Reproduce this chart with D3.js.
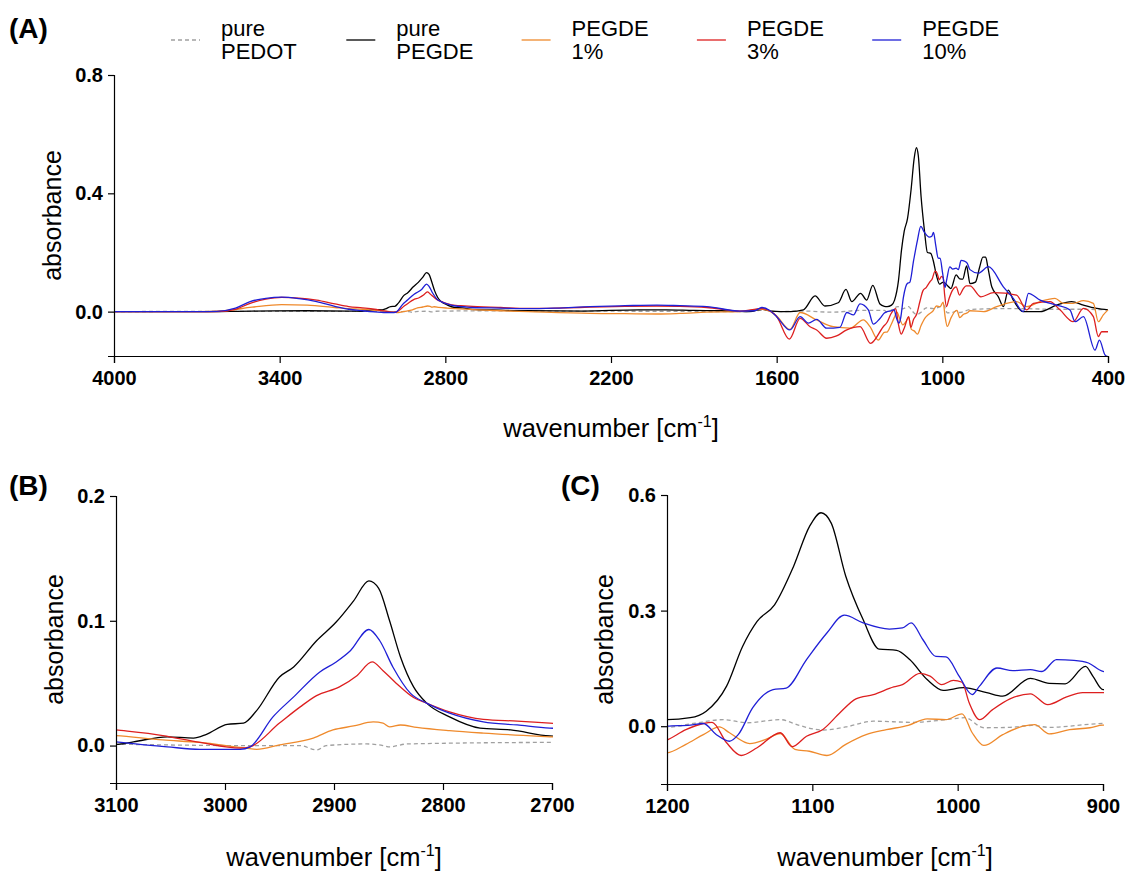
<!DOCTYPE html>
<html><head><meta charset="utf-8">
<script src="https://cdn.jsdelivr.net/npm/d3@7"></script>
<style>
html,body{margin:0;padding:0;background:#fff;}
svg text{font-family:"Liberation Sans",Arial,sans-serif;}
</style></head>
<body><svg id="c" width="1130" height="872"></svg>
<script>
// ---- Data: [wavenumber cm-1, absorbance] ----
const pedot = [[4000,0],[3600,0.001],[3300,0.001],[3100,0.001],[3053,0.0005],[2992,0],[2931,0],[2916,-0.0035],[2907,0],[2870,0.0013],[2855,0],[2849,-0.001],[2833,0.0013],[2702,0.0025],[2400,0.002],[2000,0.001],[1700,0],[1650,0.005],[1600,0],[1500,0.002],[1400,-0.002],[1300,0.004],[1210,0.004],[1200,-0.003],[1182,0.007],[1161,0.017],[1145,0.009],[1122,0.017],[1109,0.002],[1093,-0.010],[1077,-0.002],[1058,0.013],[1031,0.010],[1008,0.017],[995,0.022],[982,-0.004],[964,-0.003],[949,0.002],[937,-0.003],[900,0.007],[800,0.01],[700,0.01],[600,0.008],[500,0.008],[400,0.006]];

const pegde = [[4000,0],[3700,0],[3500,0.002],[3300,0.003],[3150,0.002],[3100,0.001],[3084,0.003],[3053,0.007],[3029,0.006],[3017,0.009],[2998,0.017],[2983,0.018],[2971,0.028],[2950,0.055],[2937,0.063],[2916,0.084],[2898,0.099],[2882,0.116],[2868,0.132],[2859,0.126],[2849,0.100],[2839,0.071],[2827,0.047],[2815,0.034],[2794,0.023],[2766,0.014],[2738,0.0125],[2702,0.0077],[2600,0.005],[2500,0.003],[2300,0.002],[2100,0.006],[2000,0.006],[1900,0.004],[1800,0.003],[1700,0],[1650,0.008],[1620,0.002],[1550,0],[1503,0.006],[1461,0.053],[1425,0.019],[1377,0.03],[1349,0.075],[1328,0.034],[1296,0.062],[1274,0.039],[1252,0.089],[1226,0.026],[1210,0.018],[1200,0.017],[1184,0.022],[1173,0.039],[1159,0.104],[1148,0.207],[1138,0.272],[1126,0.315],[1113,0.414],[1102,0.518],[1094,0.554],[1087,0.527],[1077,0.389],[1065,0.276],[1054,0.200],[1042,0.197],[1033,0.173],[1021,0.121],[1010,0.093],[996,0.100],[980,0.087],[969,0.078],[950,0.124],[937,0.111],[926,0.110],[912,0.155],[907,0.130],[900,0.095],[880,0.10],[865,0.15],[853,0.184],[843,0.184],[835,0.15],[821,0.084],[797,0.05],[779,0.017],[761,0.073],[743,0.039],[707,0],[646,0],[586,0.022],[532,0.034],[489,0.022],[441,0.011],[400,0.006]];

const pegde1 = [[4000,0],[3700,0],[3600,0.003],[3500,0.015],[3393,0.024],[3300,0.022],[3200,0.014],[3150,0.01],[3100,0.008],[3057,0.0045],[3023,0.0025],[2986,-0.0015],[2971,-0.003],[2950,0.0005],[2919,0.006],[2901,0.0125],[2882,0.0157],[2864,0.019],[2855,0.018],[2849,0.015],[2839,0.0165],[2824,0.0146],[2794,0.012],[2763,0.010],[2702,0.007],[2600,0.003],[2500,0],[2276,-0.006],[2150,-0.007],[2034,-0.008],[1950,-0.006],[1853,-0.002],[1733,0],[1654,0.008],[1625,0.002],[1600,-0.015],[1552,-0.06],[1515,-0.003],[1455,-0.028],[1395,-0.051],[1334,-0.056],[1286,-0.028],[1262,-0.051],[1232,-0.096],[1210,-0.07],[1200,-0.069],[1187,-0.047],[1175,-0.022],[1164,-0.002],[1157,-0.017],[1143,-0.045],[1132,-0.034],[1122,-0.019],[1112,-0.060],[1102,-0.065],[1090,-0.076],[1077,-0.047],[1063,-0.022],[1049,-0.009],[1034,0.002],[1021,0.019],[1008,0.017],[997,0.032],[990,-0.017],[982,-0.050],[969,-0.022],[955,0],[947,0.004],[937,-0.020],[923,-0.009],[909,-0.004],[900,0.003],[851,0],[803,0.017],[731,0.034],[695,0.017],[646,0.034],[592,0.045],[562,0.028],[526,0.028],[489,0.037],[453,0.028],[435,-0.034],[417,-0.011],[400,0.006]];

const pegde3 = [[4000,0],[3700,0],[3628,0],[3560,0.008],[3507,0.028],[3450,0.042],[3393,0.048],[3330,0.046],[3266,0.039],[3200,0.026],[3150,0.017],[3100,0.0125],[3057,0.008],[3023,0.0025],[2986,-0.002],[2977,-0.001],[2950,0.018],[2931,0.031],[2916,0.040],[2895,0.047],[2879,0.056],[2865,0.067],[2855,0.060],[2843,0.050],[2827,0.0385],[2815,0.034],[2794,0.027],[2763,0.021],[2732,0.0196],[2702,0.018],[2600,0.014],[2500,0.011],[2400,0.012],[2276,0.015],[2150,0.018],[2034,0.019],[1950,0.018],[1853,0.014],[1733,0.002],[1654,0.01],[1625,0.003],[1600,-0.017],[1554,-0.093],[1515,-0.023],[1479,-0.051],[1455,-0.062],[1419,-0.09],[1383,-0.082],[1346,-0.062],[1298,-0.051],[1260,-0.107],[1214,-0.051],[1200,-0.036],[1187,-0.009],[1175,0.007],[1169,0.010],[1159,-0.043],[1149,-0.076],[1138,-0.056],[1122,-0.017],[1114,-0.053],[1104,-0.026],[1093,-0.009],[1081,0.035],[1070,0.071],[1058,0.082],[1044,0.102],[1038,0.108],[1026,0.137],[1019,0.130],[1011,0.108],[1003,0.119],[997,0.114],[992,0.060],[985,0.017],[976,0.043],[964,0.071],[950,0.084],[938,0.056],[925,0.076],[914,0.087],[900,0.087],[860,0.05],[815,0.064],[731,0.056],[695,0.006],[670,0.028],[610,0.034],[574,0.006],[526,-0.034],[489,0.011],[453,-0.017],[435,-0.084],[423,-0.068],[400,-0.068]];

const pegde10 = [[4000,0],[3700,0],[3628,0.001],[3560,0.012],[3507,0.034],[3450,0.045],[3393,0.049],[3330,0.044],[3266,0.034],[3200,0.018],[3150,0.008],[3100,0.003],[3053,-0.001],[3023,-0.003],[2986,-0.003],[2977,-0.001],[2956,0.023],[2937,0.039],[2913,0.059],[2898,0.067],[2885,0.076],[2868,0.093],[2858,0.084],[2846,0.063],[2830,0.042],[2815,0.034],[2794,0.026],[2763,0.019],[2732,0.0165],[2702,0.014],[2600,0.012],[2500,0.01],[2400,0.012],[2276,0.017],[2150,0.02],[2034,0.022],[1950,0.02],[1853,0.017],[1733,0.002],[1680,0.003],[1654,0.014],[1625,0.004],[1600,-0.017],[1552,-0.062],[1515,-0.017],[1485,-0.039],[1455,-0.026],[1419,-0.056],[1371,-0.053],[1346,-0.003],[1322,-0.011],[1298,0.026],[1268,0.006],[1250,-0.042],[1226,-0.023],[1210,-0.005],[1200,0],[1184,0.003],[1175,0.007],[1166,-0.022],[1157,-0.039],[1151,-0.022],[1141,0.048],[1127,0.095],[1118,0.099],[1104,0.173],[1090,0.242],[1078,0.288],[1065,0.268],[1047,0.252],[1038,0.255],[1032,0.268],[1024,0.225],[1015,0.181],[1008,0.180],[999,0.130],[990,0.082],[985,0.104],[973,0.151],[962,0.144],[950,0.147],[942,0.142],[932,0.173],[920,0.171],[910,0.164],[900,0.142],[870,0.13],[833,0.152],[779,0.084],[743,0.045],[707,0],[688,0.062],[646,0.039],[586,0.022],[538,0.006],[519,-0.034],[489,-0.017],[447,-0.13],[431,-0.096],[411,-0.146],[400,-0.152]];

const seriesNames = ["pure\nPEDOT","pure\nPEGDE","PEGDE\n1%","PEGDE\n3%","PEGDE\n10%"];
const seriesData = [pedot, pegde, pegde1, pegde3, pegde10];
const seriesColors = ["#a0a0a0","#000000","#ef8a2c","#dd1f1f","#1f1fd6"];
const seriesDash = ["4,3",null,null,null,null];

const ticksA_x = [4000,3400,2800,2200,1600,1000,400];
const ticksA_y = [0.0,0.4,0.8];
const ticksB_x = [3100,3000,2900,2800,2700];
const ticksB_y = [0.0,0.1,0.2];
const ticksC_x = [1200,1100,1000,900];
const ticksC_y = [0.0,0.3,0.6];

const svg = d3.select("#c");
const FONT = '"Liberation Sans",Arial,sans-serif';

function panel(cfg){
  const x = d3.scaleLinear().domain(cfg.xd).range([cfg.x0,cfg.x1]);
  const y = d3.scaleLinear().domain(cfg.yd).range([cfg.y1,cfg.y0]);
  const id = "clip"+cfg.name;
  svg.append("clipPath").attr("id",id).append("rect")
    .attr("x",cfg.x0).attr("y",cfg.y0-5).attr("width",cfg.x1-cfg.x0+1).attr("height",cfg.y1-cfg.y0+5);
  const g = svg.append("g").attr("clip-path",`url(#${id})`);
  const line = d3.line().x(d=>x(d[0])).y(d=>y(d[1])).curve(d3.curveMonotoneX);
  seriesData.forEach((s,i)=>{
    g.append("path").attr("d",line(s)).attr("fill","none")
      .attr("stroke",seriesColors[i]).attr("stroke-width",1.3)
      .attr("stroke-dasharray",seriesDash[i]);
  });
  const xa = svg.append("g").attr("transform",`translate(0,${cfg.y1})`)
    .call(d3.axisBottom(x).tickValues(cfg.xt).tickFormat(d3.format("d")).tickSizeOuter(0).tickSize(7).tickPadding(8));
  const ya = svg.append("g").attr("transform",`translate(${cfg.x0},0)`)
    .call(d3.axisLeft(y).tickValues(cfg.yt).tickFormat(d3.format(".1f")).tickSizeOuter(0).tickSize(6).tickPadding(5));
  [xa,ya].forEach(a=>{
    a.selectAll("path.domain").attr("stroke","#000").attr("stroke-width",1.2);
    a.selectAll(".tick line").attr("stroke","#000").attr("stroke-width",1.2);
    a.selectAll("text").attr("font-family",FONT).attr("font-weight","bold")
      .attr("font-size",20).attr("fill","#000");
  });
  // axis titles
  const xt = svg.append("text").attr("x",(cfg.x0+cfg.x1)/2).attr("y",cfg.y1+cfg.xtOff)
    .attr("text-anchor","middle").attr("font-size",25.5).attr("font-family",FONT);
  xt.append("tspan").text("wavenumber [cm");
  xt.append("tspan").attr("dy",-10).attr("font-size",16).text("-1");
  xt.append("tspan").attr("dy",10).text("]");
  svg.append("text").attr("transform",`translate(${cfg.ytX},${(cfg.y0+cfg.y1)/2}) rotate(-90)`)
    .attr("text-anchor","middle").attr("dominant-baseline","central")
    .attr("font-size",25).attr("font-family",FONT).text("absorbance");
  svg.append("text").attr("x",cfg.lx).attr("y",cfg.ly).attr("font-size",28)
    .attr("font-weight","bold").attr("font-family",FONT).text(cfg.label);
}

panel({name:"A",xd:[4000,400],yd:[-0.15,0.8],x0:114,x1:1108,y0:75,y1:356,xt:ticksA_x,yt:ticksA_y,xtOff:81,ytX:52,label:"(A)",lx:9,ly:38});
panel({name:"B",xd:[3100,2700],yd:[-0.03,0.2],x0:116,x1:552,y0:496,y1:783,xt:ticksB_x,yt:ticksB_y,xtOff:83,ytX:54,label:"(B)",lx:9,ly:495});
panel({name:"C",xd:[1200,900],yd:[-0.15,0.6],x0:667,x1:1103,y0:495,y1:784,xt:ticksC_x,yt:ticksC_y,xtOff:82,ytX:604,label:"(C)",lx:561,ly:495});

// legend
const leg = svg.append("g");
seriesNames.forEach((n,i)=>{
  const x0 = 171 + i*175.3;
  leg.append("line").attr("x1",x0).attr("x2",x0+29).attr("y1",40).attr("y2",40)
    .attr("stroke",seriesColors[i]).attr("stroke-width",1.3).attr("stroke-dasharray",seriesDash[i]);
  const parts = n.split("\n");
  parts.forEach((p,j)=>{
    leg.append("text").attr("x",x0+50).attr("y",36+j*23).attr("font-size",22)
      .attr("font-family",FONT).text(p);
  });
});
</script></body></html>
